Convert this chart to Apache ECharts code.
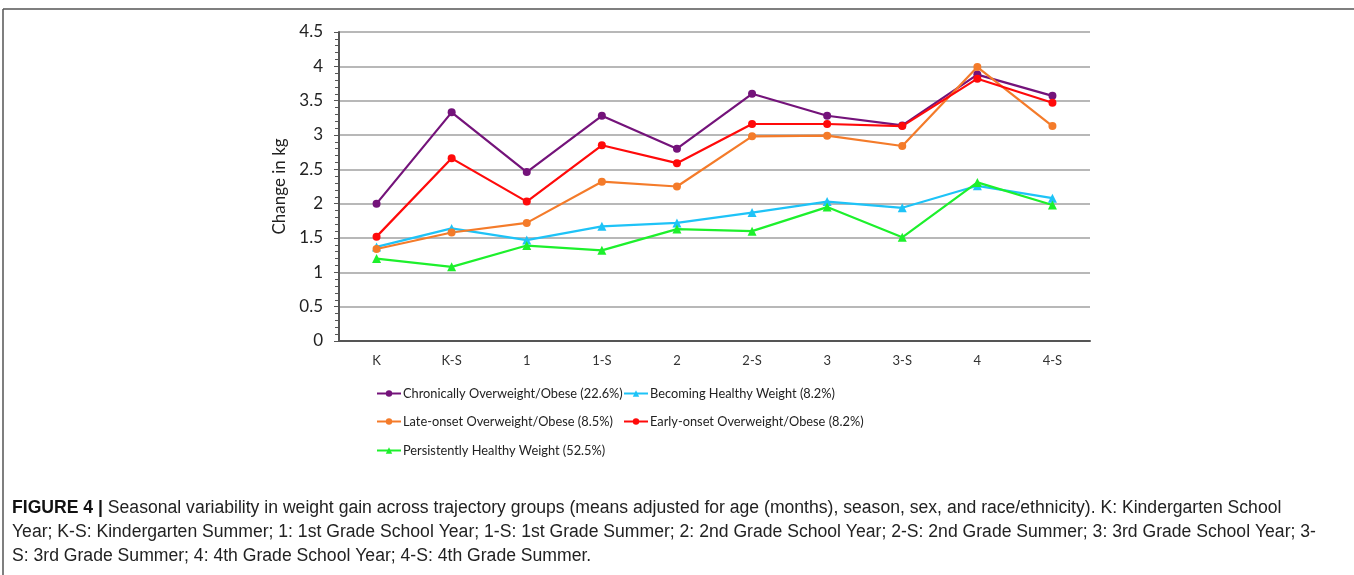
<!DOCTYPE html>
<html>
<head>
<meta charset="utf-8">
<script src="https://cdn.jsdelivr.net/npm/echarts@6/dist/echarts.min.js"></script>
<style>
html,body{margin:0;padding:0;background:#fff;}
#c{width:1354px;height:575px;}
</style>
</head>
<body>
<div id="c"></div>
<script>
const categories = ['K','K-S','1','1-S','2','2-S','3','3-S','4','4-S'];
const yTicks = {min: 0, max: 4.5, interval: 0.5};
const seriesNames = [
  'Chronically Overweight/Obese (22.6%)',
  'Becoming Healthy Weight (8.2%)',
  'Late-onset Overweight/Obese (8.5%)',
  'Early-onset Overweight/Obese (8.2%)',
  'Persistently Healthy Weight (52.5%)'
];
const chronic    = [2.00, 3.33, 2.46, 3.28, 2.80, 3.60, 3.28, 3.14, 3.88, 3.57];
const becoming   = [1.37, 1.64, 1.47, 1.67, 1.72, 1.87, 2.03, 1.94, 2.26, 2.08];
const lateOnset  = [1.34, 1.58, 1.72, 2.32, 2.25, 2.98, 2.99, 2.84, 3.99, 3.13];
const earlyOnset = [1.52, 2.66, 2.03, 2.85, 2.59, 3.16, 3.16, 3.13, 3.82, 3.47];
const persistent = [1.20, 1.08, 1.39, 1.32, 1.63, 1.60, 1.95, 1.51, 2.31, 1.98];
const yAxisName = 'Change in kg';
const captionBold = 'FIGURE 4 |';
const captionLines = [
  ' Seasonal variability in weight gain across trajectory groups (means adjusted for age (months), season, sex, and race/ethnicity). K: Kindergarten School',
  'Year; K-S: Kindergarten Summer; 1: 1st Grade School Year; 1-S: 1st Grade Summer; 2: 2nd Grade School Year; 2-S: 2nd Grade Summer; 3: 3rd Grade School Year; 3-',
  'S: 3rd Grade Summer; 4: 4th Grade School Year; 4-S: 4th Grade Summer.'
];

const values = [chronic, becoming, lateOnset, earlyOnset, persistent];
const colors = ['#74137a', '#1ec3f7', '#f47b2a', '#ff0a0a', '#1df02c'];
const symbols = ['circle', 'triangle', 'circle', 'circle', 'triangle'];
const legendPos = [
  {left: 376, top: 387}, {left: 623, top: 387},
  {left: 376, top: 415}, {left: 623, top: 415},
  {left: 376, top: 444}
];

const chart = echarts.init(document.getElementById('c'));
const font = 'Lato, "Open Sans", sans-serif';
const capFont = '"Liberation Sans", Arial, sans-serif';
chart.setOption({
  animation: false,
  backgroundColor: '#fff',
  grid: {left: 339, right: 264, top: 32, bottom: 234, containLabel: false},
  xAxis: {
    type: 'category',
    data: categories,
    boundaryGap: true,
    axisLine: {lineStyle: {color: '#555', width: 2}},
    axisTick: {alignWithLabel: true, length: 5, lineStyle: {color: '#555'}},
    axisLabel: {color: '#333', fontSize: 13, fontFamily: font, margin: 13}
  },
  yAxis: {
    type: 'value',
    min: yTicks.min, max: yTicks.max, interval: yTicks.interval,
    name: yAxisName,
    nameLocation: 'middle',
    nameGap: 48,
    nameRotate: 90,
    nameTextStyle: {color: '#222', fontSize: 17, fontFamily: font},
    axisLine: {show: true, lineStyle: {color: '#555', width: 2}},
    axisTick: {show: true, length: 5, lineStyle: {color: '#555'}},
    minorTick: {show: true, splitNumber: 5, length: 4, lineStyle: {color: '#555'}},
    axisLabel: {color: '#222', fontSize: 17, fontFamily: font, margin: 16},
    splitLine: {lineStyle: {color: '#a0a0a0', width: 1.5}}
  },
  legend: seriesNames.map((n, i) => ({
    data: [n],
    left: legendPos[i].left,
    top: legendPos[i].top,
    itemWidth: 24,
    itemHeight: 8,
    itemGap: 2,
    padding: 0,
    textStyle: {color: '#222', fontSize: 12.8, fontFamily: font, padding: [0, 0, 0, -3]}
  })),
  series: seriesNames.map((n, i) => ({
    name: n,
    type: 'line',
    data: values[i],
    color: colors[i],
    symbol: symbols[i],
    symbolSize: symbols[i] === 'triangle' ? 9 : 8,
    lineStyle: {width: 2.2, color: colors[i]},
    itemStyle: {color: colors[i]}
  })),
  graphic: [
    {type: 'line', shape: {x1: 3, y1: 9, x2: 1354, y2: 9}, style: {stroke: '#555', lineWidth: 1.5}},
    {type: 'line', shape: {x1: 3, y1: 9, x2: 3, y2: 575}, style: {stroke: '#555', lineWidth: 1.5}},
    {
      type: 'text', left: 12, top: 496,
      style: {
        text: '{b|' + captionBold + '}' + captionLines[0] + '\n' + captionLines[1] + '\n' + captionLines[2],
        fontSize: 17.6, fontFamily: capFont, fill: '#222', lineHeight: 24,
        rich: {b: {fontWeight: 'bold', fontSize: 17.6, fontFamily: capFont, fill: '#111', lineHeight: 24}}
      }
    }
  ]
});
</script>
</body>
</html>
